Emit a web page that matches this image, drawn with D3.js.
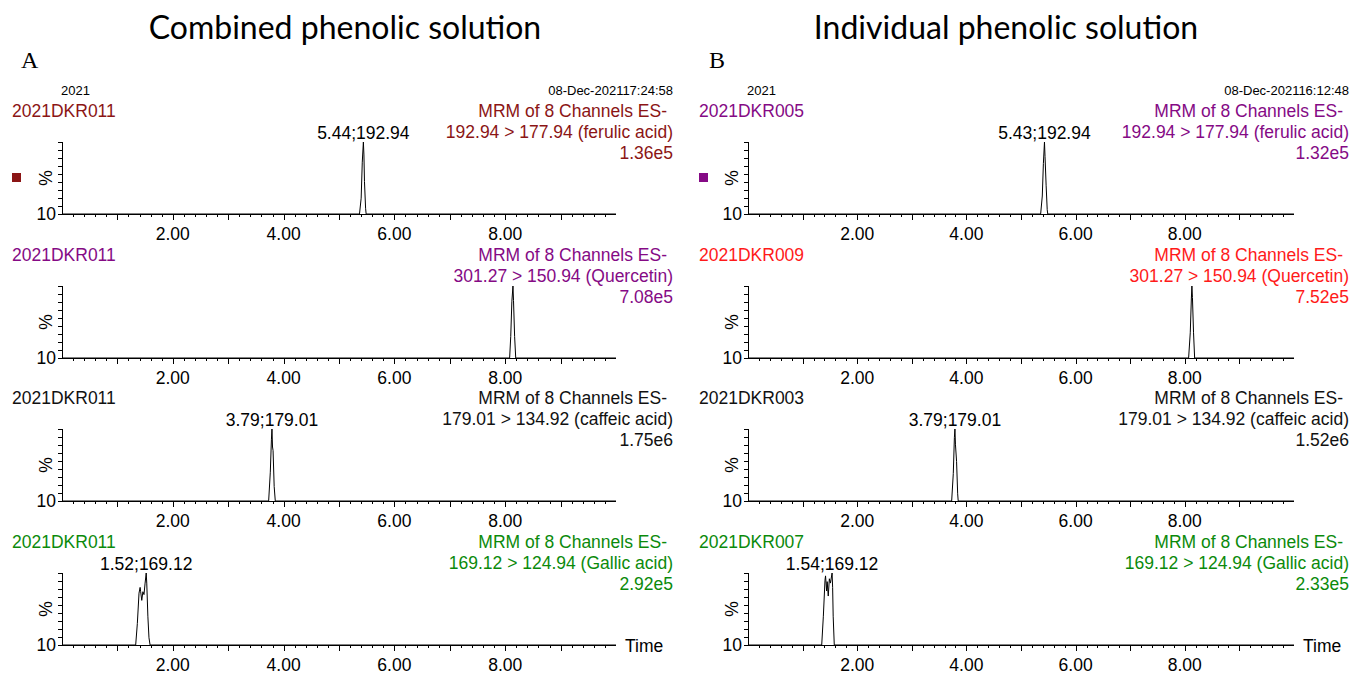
<!DOCTYPE html>
<html>
<head>
<meta charset="utf-8">
<script src="https://cdn.jsdelivr.net/npm/d3@7"></script>
<style>
  html, body { margin: 0; padding: 0; background: #fff; }
  svg { display: block; }
  .t { font-family: "Liberation Sans", Arial, sans-serif; }
</style>
</head>
<body>
<svg id="chart" width="1364" height="673"></svg>
<script>
// ---- data -------------------------------------------------------------
const panelTitles  = ["Combined phenolic solution", "Individual phenolic solution"];
const panelLetters = ["A", "B"];
const runDates     = ["08-Dec-202117:24:58", "08-Dec-202116:12:48"];
const runYears     = ["2021", "2021"];
const sampleIds    = [
  ["2021DKR011", "2021DKR011", "2021DKR011", "2021DKR011"],
  ["2021DKR005", "2021DKR009", "2021DKR003", "2021DKR007"]
];
const scanMode  = "MRM of 8 Channels ES-";
const channels  = [
  "192.94 > 177.94 (ferulic acid)",
  "301.27 > 150.94 (Quercetin)",
  "179.01 > 134.92 (caffeic acid)",
  "169.12 > 124.94 (Gallic acid)"
];
const intensities = [
  ["1.36e5", "7.08e5", "1.75e6", "2.92e5"],
  ["1.32e5", "7.52e5", "1.52e6", "2.33e5"]
];
// apex retention time and m/z shown above each peak (null = unlabeled)
const peakTimes = [
  [5.44, null, 3.79, 1.52],
  [5.43, null, 3.79, 1.54]
];
const peakMz = ["192.94", null, "179.01", "169.12"];
const xTickLabels = [2, 4, 6, 8];
const yAxisLabel  = "10";

// chromatogram traces: [time (min), relative intensity (%)]
const ferulicA   = [[0,0],[5.37,0],[5.40,22],[5.42,72],[5.44,100],[5.45,82],[5.46,45],[5.48,8],[5.49,0],[10,0]];
const quercetinA = [[0,0],[8.08,0],[8.10,30],[8.12,78],[8.14,100],[8.15,80],[8.17,30],[8.19,0],[10,0]];
const caffeicA   = [[0,0],[3.73,0],[3.76,40],[3.78,85],[3.79,100],[3.80,75],[3.81,70],[3.83,20],[3.85,0],[10,0]];
const gallicA    = [[0,0],[1.33,0],[1.36,30],[1.39,72],[1.41,80],[1.42,74],[1.44,62],[1.46,74],[1.48,70],[1.50,86],[1.52,100],[1.53,86],[1.55,40],[1.57,10],[1.59,0],[10,0]];

const ferulicB   = [[0,0],[5.36,0],[5.39,25],[5.41,70],[5.43,100],[5.44,80],[5.46,40],[5.48,6],[5.49,0],[10,0]];
const quercetinB = [[0,0],[8.07,0],[8.10,35],[8.12,82],[8.13,100],[8.14,84],[8.16,35],[8.18,0],[10,0]];
const caffeicB   = [[0,0],[3.73,0],[3.76,38],[3.78,88],[3.79,100],[3.80,78],[3.82,55],[3.84,10],[3.85,0],[10,0]];
const gallicB    = [[0,0],[1.35,0],[1.38,40],[1.41,90],[1.42,96],[1.44,75],[1.45,88],[1.47,68],[1.49,92],[1.51,86],[1.54,100],[1.55,80],[1.56,40],[1.58,0],[10,0]];

const traces = [
  [ferulicA, quercetinA, caffeicA, gallicA],
  [ferulicB, quercetinB, caffeicB, gallicB]
];
const traceColors = [
  ["#8b1515", "#850a85", "#111111", "#0b8a0b"],
  ["#850a85", "#ff1a1a", "#111111", "#0b8a0b"]
];

// ---- layout -----------------------------------------------------------
const svg = d3.select("#chart");
const panels = [
  { axisX: 62,  axisEnd: 616,  right: 673,  titleX: 345,  letterX: 21,  nameX: 12 },
  { axisX: 748, axisEnd: 1294, right: 1349, titleX: 1006, letterX: 709, nameX: 699 }
];
const rowTops = [142, 286, 429, 573];
const rowH = 72;
const fs = 17.5;

panels.forEach((p, pi) => {
  const g = svg.append("g");

  g.append("text")
    .attr("x", p.titleX).attr("y", 39)
    .attr("text-anchor", "middle")
    .style("font-family", "Lato, Carlito, 'Open Sans', sans-serif")
    .style("font-size", "32px")
    .text(panelTitles[pi]);

  g.append("text")
    .attr("x", p.letterX).attr("y", 68)
    .style("font-family", "'Liberation Serif', 'Times New Roman', serif")
    .style("font-size", "24px")
    .text(panelLetters[pi]);

  g.append("text").attr("class", "t")
    .attr("x", p.axisX - 1).attr("y", 95)
    .style("font-size", "13px")
    .text(runYears[pi]);

  g.append("text").attr("class", "t")
    .attr("x", p.right).attr("y", 95)
    .attr("text-anchor", "end")
    .style("font-size", "13px")
    .text(runDates[pi]);

  const x = d3.scaleLinear().domain([0, 10]).range([p.axisX, p.axisEnd]);

  rowTops.forEach((top, ri) => {
    const base = top + rowH;
    const y = d3.scaleLinear().domain([0, 100]).range([base, top]);
    const color = traceColors[pi][ri];
    const row = g.append("g");

    // sample / channel header
    row.append("text").attr("class", "t")
      .attr("x", p.nameX).attr("y", top - 25)
      .attr("fill", color).style("font-size", fs + "px")
      .text(sampleIds[pi][ri]);
    row.append("text").attr("class", "t")
      .attr("x", p.right - 6).attr("y", top - 25)
      .attr("text-anchor", "end")
      .attr("fill", color).style("font-size", fs + "px")
      .text(scanMode);
    row.append("text").attr("class", "t")
      .attr("x", p.right).attr("y", top - 4)
      .attr("text-anchor", "end")
      .attr("fill", color).style("font-size", fs + "px")
      .text(channels[ri]);
    row.append("text").attr("class", "t")
      .attr("x", p.right).attr("y", top + 17)
      .attr("text-anchor", "end")
      .attr("fill", color).style("font-size", fs + "px")
      .text(intensities[pi][ri]);

    if (ri === 0) {
      row.append("rect")
        .attr("x", p.nameX).attr("y", (top + base) / 2 - 5)
        .attr("width", 9).attr("height", 9)
        .attr("fill", color);
    }

    // y axis: unlabeled ticks, "%" and the lower label
    const yTicks = d3.range(10).map(i => i * 100 / 9);
    const yAxis = d3.axisLeft(y).tickValues(yTicks).tickSize(4).tickFormat("");
    row.append("g").attr("transform", `translate(${p.axisX},0)`)
      .call(yAxis)
      .call(a => a.select(".domain").attr("d", `M0,${top}V${base}`))
      .attr("shape-rendering", "crispEdges");

    row.append("text").attr("class", "t")
      .attr("transform", `translate(${p.axisX - 10},${(top + base) / 2}) rotate(-90)`)
      .attr("text-anchor", "middle")
      .style("font-size", fs + "px")
      .text("%");
    row.append("text").attr("class", "t")
      .attr("x", p.axisX - 6).attr("y", base + 6)
      .attr("text-anchor", "end")
      .style("font-size", fs + "px")
      .text(yAxisLabel);

    // x axis: minor ticks every 0.2 min, longer ticks on whole minutes
    const minor = d3.range(1, 50).map(i => i / 5).filter(v => Math.abs(v - Math.round(v)) > 1e-6);
    const major = d3.range(1, 10);
    const xg = row.append("g").attr("transform", `translate(0,${base})`);
    const xt = xg.append("g").attr("shape-rendering", "crispEdges");
    xt.call(d3.axisBottom(x).tickValues(minor).tickSize(3).tickFormat(""))
      .call(a => a.select(".domain").attr("d", `M${p.axisX},0H${p.axisEnd}`));
    xg.append("g").attr("shape-rendering", "crispEdges")
      .call(d3.axisBottom(x).tickValues(major).tickSize(6).tickFormat(""))
      .call(a => a.select(".domain").remove());
    xg.selectAll("text.lbl").data(xTickLabels).join("text")
      .attr("class", "t lbl")
      .attr("x", d => x(d)).attr("y", 25.5)
      .attr("text-anchor", "middle")
      .attr("fill", "#000")
      .style("font-size", fs + "px")
      .text(d => d.toFixed(2));

    if (ri === rowTops.length - 1) {
      row.append("text").attr("class", "t")
        .attr("x", p.axisEnd + 9).attr("y", base + 7)
        .style("font-size", fs + "px")
        .text("Time");
    }

    // chromatogram trace
    const line = d3.line().x(d => x(d[0])).y(d => y(d[1]));
    row.append("path")
      .datum(traces[pi][ri])
      .attr("d", line)
      .attr("fill", "none")
      .attr("stroke", "#000")
      .attr("stroke-width", 1);

    // apex label
    const pt = peakTimes[pi][ri];
    if (pt !== null) {
      row.append("text").attr("class", "t")
        .attr("x", x(pt)).attr("y", top - 3)
        .attr("text-anchor", "middle")
        .style("font-size", fs + "px")
        .text(pt.toFixed(2) + ";" + peakMz[ri]);
    }
  });
});
</script>
</body>
</html>
